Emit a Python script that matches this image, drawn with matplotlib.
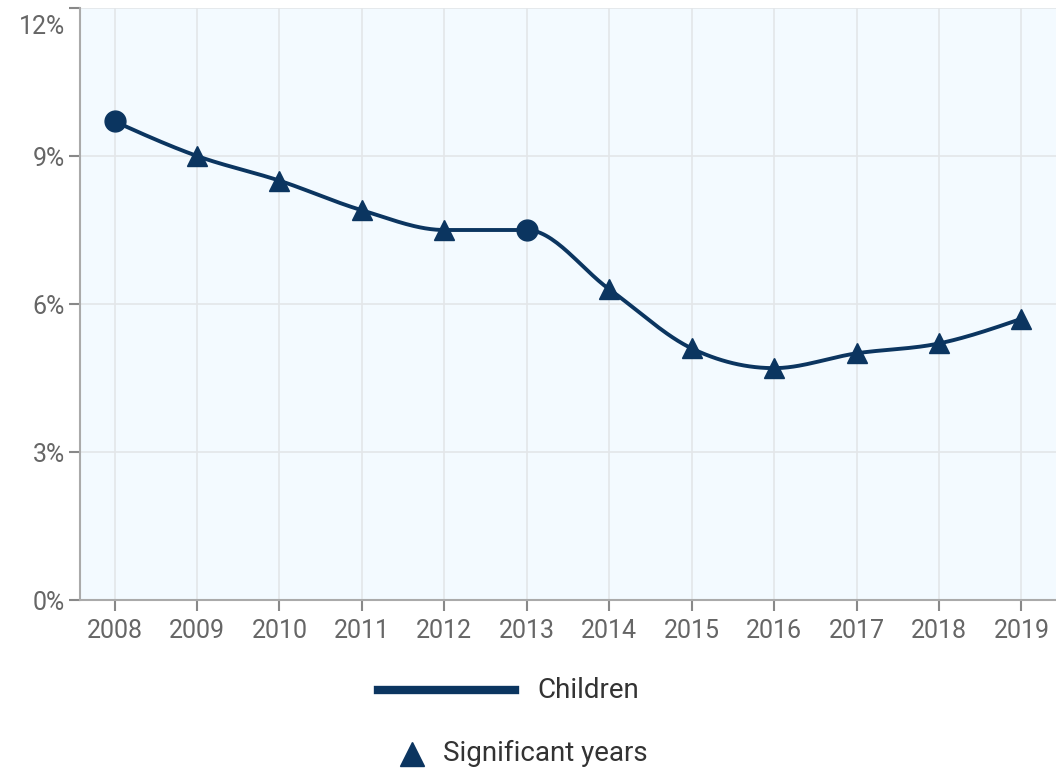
import numpy as np
import matplotlib.pyplot as plt
from matplotlib.lines import Line2D
from matplotlib.transforms import ScaledTranslation

years = [2008, 2009, 2010, 2011, 2012, 2013, 2014, 2015, 2016, 2017, 2018, 2019]
children = [9.7, 9.0, 8.5, 7.9, 7.5, 7.5, 6.3, 5.1, 4.7, 5.0, 5.2, 5.7]
significant = [False, True, True, True, True, False, True, True, True, True, True, True]
y_ticks = [0, 3, 6, 9, 12]

navy = '#0b3560'
grey = '#666666'
plt.rcParams['font.family'] = ['Roboto', 'DejaVu Sans']


def monotone_x(x, y, n=30):
    # monotone cubic interpolation, same idea as d3.curveMonotoneX
    x = np.asarray(x, float)
    y = np.asarray(y, float)
    h = np.diff(x)
    s = np.diff(y) / h
    m = np.zeros_like(y)
    for i in range(1, len(y) - 1):
        if s[i - 1] * s[i] <= 0:
            m[i] = 0
        else:
            p = (s[i - 1] * h[i] + s[i] * h[i - 1]) / (h[i - 1] + h[i])
            m[i] = (np.sign(s[i - 1]) + np.sign(s[i])) * min(abs(s[i - 1]), abs(s[i]), 0.5 * abs(p))
    m[0] = (3 * s[0] - m[1]) / 2 if len(y) > 2 else s[0]
    m[-1] = (3 * s[-1] - m[-2]) / 2 if len(y) > 2 else s[-1]
    xs, ys = [], []
    for i in range(len(h)):
        t = np.linspace(0, 1, n, endpoint=(i == len(h) - 1))
        h00 = 2 * t**3 - 3 * t**2 + 1
        h10 = t**3 - 2 * t**2 + t
        h01 = -2 * t**3 + 3 * t**2
        h11 = t**3 - t**2
        xs.append(x[i] + t * h[i])
        ys.append(h00 * y[i] + h10 * h[i] * m[i] + h01 * y[i + 1] + h11 * h[i] * m[i + 1])
    return np.concatenate(xs), np.concatenate(ys)


fig = plt.figure(figsize=(10.56, 7.7), dpi=100)
ax = fig.add_axes([80 / 1056, 170 / 770, 976 / 1056, 592 / 770])
ax.set_facecolor('#f3faff')

cx, cy = monotone_x(years, children)
ax.plot(cx, cy, color=navy, lw=2.8, solid_capstyle='round', zorder=3)

yr = np.array(years)
vals = np.array(children)
sig = np.array(significant)
ax.plot(yr[sig], vals[sig], ls='none', marker='^', ms=15, color=navy, zorder=4)
ax.plot(yr[~sig], vals[~sig], ls='none', marker='o', ms=15, color=navy, zorder=4)

ax.set_xlim(years[0] - 0.42, years[-1] + 0.42)
ax.set_ylim(0, 12)
ax.set_xticks(years)
ax.set_xticklabels([str(y) for y in years])
ax.set_yticks(y_ticks)
ax.set_yticklabels([f'{v}%' for v in y_ticks])
ax.grid(True, color='#e3e6e9', lw=1.2)
ax.set_axisbelow(True)
for side in ['top', 'right']:
    ax.spines[side].set_visible(False)
for side in ['left', 'bottom']:
    ax.spines[side].set_color('#aaaaaa')
    ax.spines[side].set_linewidth(1.5)
ax.tick_params(axis='both', colors='#888888', labelcolor=grey, labelsize=18,
               length=8, width=1.5, direction='out')
ax.tick_params(axis='y', pad=3)
ax.tick_params(axis='x', pad=6)
# keep the top label inside the figure
for lbl in ax.get_yticklabels():
    if lbl.get_text() == '12%':
        lbl.set_transform(lbl.get_transform() + ScaledTranslation(0, -0.17, fig.dpi_scale_trans))

# legend rows underneath the chart
fig.add_artist(Line2D([378 / 1056, 515 / 1056], [80 / 770, 80 / 770], color=navy, lw=6,
                      transform=fig.transFigure))
fig.text(537 / 1056, 80 / 770, 'Children', fontsize=20, color='#333333', va='center')
fig.add_artist(Line2D([412 / 1056], [16 / 770], ls='none', marker='^', ms=17, color=navy,
                      transform=fig.transFigure))
fig.text(443 / 1056, 17 / 770, 'Significant years', fontsize=20, color='#333333', va='center')

fig.savefig('out.png', dpi=100)
